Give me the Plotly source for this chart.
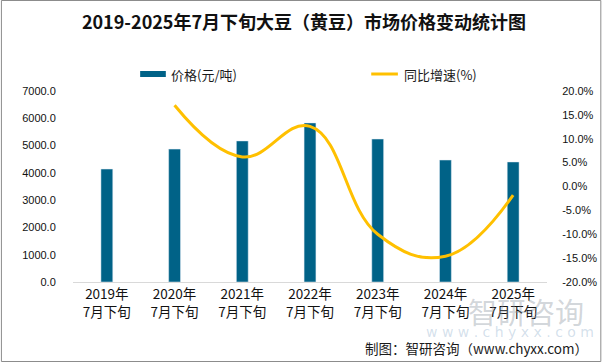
import plotly.graph_objects as go

categories = ["2019年<br>7月下旬", "2020年<br>7月下旬", "2021年<br>7月下旬", "2022年<br>7月下旬",
              "2023年<br>7月下旬", "2024年<br>7月下旬", "2025年<br>7月下旬"]
price = [4140, 4870, 5170, 5830, 5240, 4470, 4400]
growth = [None, 17.0, 6.2, 12.6, -10.0, -14.6, -1.8]
left_ticks = [0, 1000, 2000, 3000, 4000, 5000, 6000, 7000]
right_ticks = [-20, -15, -10, -5, 0, 5, 10, 15, 20]

W, H = 609, 363
L, R, T, B = 73, 553, 91, 282
PW, PH = R - L, B - T

def px(x):
    return (x - L) / PW

def py(y):
    return (B - y) / PH

BAR = "#006287"
LINE = "#FFC000"
CJK = "Noto Sans CJK SC"

fig = go.Figure()
fig.add_trace(go.Bar(x=categories, y=price, name="价格(元/吨)", marker_color=BAR,
                     width=0.175, showlegend=False))
fig.add_trace(go.Scatter(x=categories, y=growth, name="同比增速(%)", yaxis="y2",
                         mode="lines", line=dict(color=LINE, width=3, shape="spline", smoothing=1.2),
                         connectgaps=False, showlegend=False))

shapes = [
    dict(type="rect", xref="paper", yref="paper", x0=px(0.5), x1=px(W - 1.5), y0=py(0.5), y1=py(H - 1.5),
         line=dict(color="#8c8c8c", width=1), fillcolor="rgba(0,0,0,0)", layer="below"),
    dict(type="line", xref="paper", yref="paper", x0=px(141), x1=px(167), y0=py(74), y1=py(74),
         line=dict(color=BAR, width=6)),
    dict(type="line", xref="paper", yref="paper", x0=px(375), x1=px(402), y0=py(74), y1=py(74),
         line=dict(color=LINE, width=3)),
]

annotations = [
    dict(text="价格(元/吨)", xref="paper", yref="paper", x=px(170), y=py(74), xanchor="left", yanchor="middle",
         showarrow=False, font=dict(family=CJK, size=13, color="#1a1a1a")),
    dict(text="同比增速(%)", xref="paper", yref="paper", x=px(406), y=py(74), xanchor="left", yanchor="middle",
         showarrow=False, font=dict(family=CJK, size=13, color="#1a1a1a")),
    dict(text="智研咨询", xref="paper", yref="paper", x=px(532), y=py(311), xanchor="center", yanchor="middle",
         showarrow=False, font=dict(family=CJK, size=29, color="rgba(140,150,160,0.4)")),
    dict(text="w w w . c h y x x . c o m", xref="paper", yref="paper", x=px(516), y=py(332),
         xanchor="center", yanchor="middle", showarrow=False,
         font=dict(family="DejaVu Sans", size=14, color="rgba(110,150,190,0.3)")),
    dict(text="制图：智研咨询（www.chyxx.com）", xref="paper", yref="paper", x=px(597), y=py(348),
         xanchor="right", yanchor="middle", showarrow=False,
         font=dict(family="Noto Sans CJK SC", size=13.5, color="#1a1a1a")),
]

fig.update_layout(
    width=W, height=H,
    margin=dict(l=L, r=W - R, t=T, b=H - B, pad=0),
    paper_bgcolor="white", plot_bgcolor="white",
    title=dict(text="<b>2019-2025年7月下旬大豆（黄豆）市场价格变动统计图</b>", x=304 / W, xanchor="center",
               y=1 - 23 / H, yanchor="middle", font=dict(family=CJK, size=18, color="#111")),
    bargap=0.5,
    xaxis=dict(showgrid=False, showline=True, linecolor="#d9d9d9", linewidth=1, ticks="",
               tickfont=dict(family=CJK, size=13.5, color="#111"), range=[-0.5, 6.5]),
    yaxis=dict(range=[0, 7000], tickvals=left_ticks, ticktext=[f"{v:.1f}" for v in left_ticks],
               showgrid=False, zeroline=False,
               showline=False, ticks="outside", ticklen=14, tickcolor="rgba(0,0,0,0)",
               tickfont=dict(family="Liberation Sans", size=11, color="#111")),
    yaxis2=dict(range=[-20, 20], tickvals=right_ticks, ticktext=[f"{v:.1f}%" for v in right_ticks],
                overlaying="y", side="right", showgrid=False, zeroline=False, showline=False,
                ticks="outside", ticklen=12, tickcolor="rgba(0,0,0,0)",
                tickfont=dict(family="Liberation Sans", size=11, color="#111")),
    shapes=shapes,
    annotations=annotations,
    showlegend=False,
)

fig.write_html("out.html", config={"displayModeBar": False},
               post_script="document.body.style.margin='0px';")
